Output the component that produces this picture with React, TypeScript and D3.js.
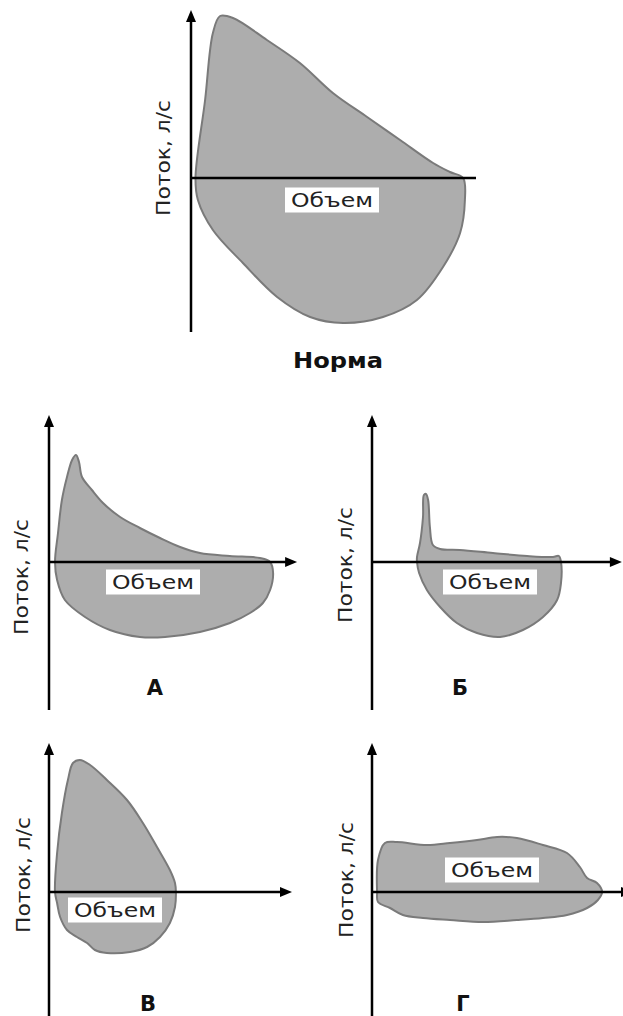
import React from "react";
import * as d3 from "d3";

// Flow–volume loops: [volume (L), flow (L/s)]
const NORM: [number, number][] = [
  [0.15, 0], [0.47, 3.9], [0.73, 7.25], [0.97, 8.1], [1.4, 8.0], [2.53, 6.9],
  [3.63, 5.75], [4.73, 4.25], [5.87, 3.05], [6.97, 1.9], [8.07, 0.75], [8.63, 0.3],
  [9.07, 0], [9.13, -1.1], [8.97, -2.75], [8.4, -4.45], [7.53, -6.1], [6.4, -6.95],
  [5.07, -7.25], [3.97, -6.95], [2.87, -5.95], [1.73, -4.25], [0.73, -2.6], [0.23, -1.1],
];
const LOOP_A: [number, number][] = [
  [0.2, 0], [0.3, 1.45], [0.43, 3.1], [0.6, 4.25], [0.77, 5.1], [0.9, 5.35], [1.0, 5.0],
  [1.1, 4.25], [1.43, 3.6], [1.8, 2.95], [2.37, 2.25], [3.03, 1.7], [3.7, 1.2],
  [4.37, 0.75], [5.03, 0.45], [6.03, 0.3], [7.03, 0.2], [7.37, 0], [7.47, -0.55],
  [7.37, -1.4], [7.13, -2.05], [6.7, -2.55], [6.03, -3.05], [5.03, -3.5], [3.87, -3.75],
  [3.03, -3.75], [2.03, -3.4], [1.2, -2.75], [0.53, -1.9], [0.27, -0.9],
];
const LOOP_B: [number, number][] = [
  [1.5, 0.25], [1.6, 0.95], [1.7, 2.25], [1.73, 3.35], [1.8, 3.4], [1.87, 3.1],
  [1.93, 1.75], [2.03, 0.85], [2.27, 0.65], [2.93, 0.6], [4.03, 0.45], [5.17, 0.3],
  [6.03, 0.25], [6.23, 0.3], [6.3, 0], [6.3, -1.05], [6.17, -1.9], [5.7, -2.75],
  [5.03, -3.4], [4.27, -3.75], [3.5, -3.55], [2.83, -3.05], [2.27, -2.25], [1.83, -1.4],
  [1.57, -0.55], [1.5, 0],
];
const LOOP_V: [number, number][] = [
  [0.2, 0], [0.27, 1.95], [0.43, 3.95], [0.63, 5.6], [0.8, 6.45], [1.03, 6.6],
  [1.37, 6.35], [1.93, 5.6], [2.6, 4.6], [3.13, 3.45], [3.6, 2.25], [4.03, 1.1],
  [4.2, 0.45], [4.23, 0], [4.2, -0.75], [4.03, -1.55], [3.7, -2.25], [3.27, -2.75],
  [2.7, -3.0], [1.93, -3.05], [1.53, -2.9], [1.27, -2.55], [0.93, -2.25], [0.6, -1.9],
  [0.37, -1.25], [0.27, -0.55],
];
const LOOP_G: [number, number][] = [
  [0.17, 0], [0.2, 1.6], [0.43, 2.45], [0.83, 2.5], [1.83, 2.35], [2.6, 2.45],
  [3.5, 2.6], [4.17, 2.75], [4.83, 2.7], [5.7, 2.35], [6.5, 1.95], [6.93, 1.25],
  [7.17, 0.7], [7.5, 0.45], [7.67, 0], [7.53, -0.4], [7.17, -0.8], [6.5, -1.15],
  [5.7, -1.3], [4.83, -1.4], [3.7, -1.5], [2.6, -1.4], [1.7, -1.3], [1.03, -1.15],
  [0.6, -0.8], [0.2, -0.5],
];

const TITLES = ["Норма", "А", "Б", "В", "Г"];
const Y_LABEL = "Поток, л/с";
const X_LABEL = "Объем";
// axis extents in data units: [xMax, yTop, yBottom]
const EXTENTS: [number, number, number][] = [
  [9.5, 8.4, -7.7],
  [8.27, 7.35, -7.4],
  [8.33, 7.35, -7.4],
  [8.1, 7.45, -6.3],
  [8.7, 7.45, -6.3],
];
const LOOPS = [NORM, LOOP_A, LOOP_B, LOOP_V, LOOP_G];

// layout
const LAYOUT = [
  { ox: 191, oy: 178, arrowX: false, yl: [163, 158], box: [332, 200], title: [338, 368], tw: 90 },
  { ox: 49, oy: 562, arrowX: true, yl: [21, 577], box: [153, 582], title: [155, 695], tw: 0 },
  { ox: 372, oy: 562, arrowX: true, yl: [345, 565], box: [490, 582], title: [460, 695], tw: 0 },
  { ox: 49, oy: 892, arrowX: true, yl: [23, 875], box: [115, 910], title: [148, 1011], tw: 0 },
  { ox: 372, oy: 892, arrowX: true, yl: [346, 880], box: [492, 870], title: [463, 1011], tw: 0 },
];

const PX_X = 30;
const PX_Y = 20;
const FONT = "'DejaVu Sans', 'Open Sans', sans-serif";

function Panel({ i }: { i: number }) {
  const L = LAYOUT[i];
  const [xMax, yTop, yBot] = EXTENTS[i];
  const x = d3.scaleLinear().domain([0, xMax]).range([L.ox, L.ox + xMax * PX_X]);
  const y = d3.scaleLinear().domain([yBot, yTop]).range([L.oy - yBot * PX_Y, L.oy - yTop * PX_Y]);
  const line = d3
    .line<[number, number]>()
    .x((d) => x(d[0]))
    .y((d) => y(d[1]))
    .curve(d3.curveCatmullRomClosed.alpha(0.5));
  const x0 = x(0);
  const y0 = y(0);
  const yt = y(yTop);
  const xr = x(xMax);
  const ah = 12;
  const aw = 5;
  return (
    <g>
      <path d={line(LOOPS[i]) || ""} fill="#adadad" stroke="#7a7a7a" strokeWidth={2} strokeLinejoin="round" />
      {/* y axis */}
      <line x1={x0} x2={x0} y1={y(yBot)} y2={yt + ah - 1} stroke="#000" strokeWidth={2.5} />
      <path d={`M${x0},${yt} L${x0 - aw},${yt + ah} L${x0 + aw},${yt + ah} Z`} fill="#000" />
      {/* x axis */}
      <line x1={x0} x2={L.arrowX ? xr - ah + 1 : xr} y1={y0} y2={y0} stroke="#000" strokeWidth={2.5} />
      {L.arrowX && <path d={`M${xr},${y0} L${xr - ah},${y0 - aw} L${xr - ah},${y0 + aw} Z`} fill="#000" />}
      {/* volume label */}
      <rect x={L.box[0] - 47} y={L.box[1] - 12.5} width={94} height={25} fill="#fff" />
      <text
        x={L.box[0]}
        y={L.box[1] + 7}
        textAnchor="middle"
        fontFamily={FONT}
        fontSize={19}
        fill="#222"
        textLength={82}
        lengthAdjust="spacingAndGlyphs"
      >
        {X_LABEL}
      </text>
      {/* flow label */}
      <text
        transform={`translate(${L.yl[0] + 7},${L.yl[1]}) rotate(-90)`}
        textAnchor="middle"
        fontFamily={FONT}
        fontSize={19}
        fill="#222"
        textLength={116}
        lengthAdjust="spacingAndGlyphs"
      >
        {Y_LABEL}
      </text>
      {/* title */}
      <text
        x={L.title[0]}
        y={L.title[1]}
        textAnchor="middle"
        fontFamily={FONT}
        fontWeight="bold"
        fontSize={21}
        fill="#111"
        {...(L.tw ? { textLength: L.tw, lengthAdjust: "spacingAndGlyphs" } : {})}
      >
        {TITLES[i]}
      </text>
    </g>
  );
}

export default function App() {
  return (
    <svg
      width={623}
      height={1016}
      style={{ position: "absolute", left: 0, top: 0, background: "#fff" }}
    >
      <rect width={623} height={1016} fill="#fff" />
      {LOOPS.map((_, i) => (
        <Panel key={i} i={i} />
      ))}
    </svg>
  );
}
